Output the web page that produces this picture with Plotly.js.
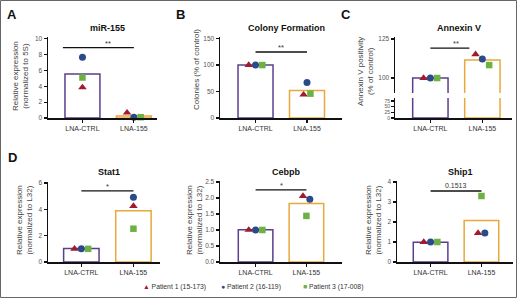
<!DOCTYPE html>
<html><head><meta charset="utf-8">
<script src="https://cdn.plot.ly/plotly-3.0.1.min.js"></script>
<style>html,body{margin:0;padding:0;background:#fff}#chart{width:520px;height:298px}</style>
</head><body><div id="chart"></div>
<script>
// ---------------- DATA ----------------
const categories = ['LNA-CTRL', 'LNA-155'];
const panelLetters = ['A', 'B', 'C', 'D', '', ''];
const panelTitles = ['miR-155', 'Colony Formation', 'Annexin V', 'Stat1', 'Cebpb', 'Ship1'];
const yTitles = [
  'Relative expression<br>(normalized to 5S)',
  'Colonies (% of control)',
  'Annexin V positivity<br>(% of control)',
  'Relative expression<br>(normalized to L32)',
  'Relative expression<br>(normalized to L32)',
  'Relative expression<br>(normalized to L32)'
];
const barCTRL    = [5.55, 100, 100, 1.03, 1.01, 0.99];
const barLNA155  = [0.25, 52, 111.5, 3.9, 1.83, 2.07];
const patientNames = ['Patient 1 (15-173)', 'Patient 2 (16-119)', 'Patient 3 (17-008)'];
const p1CTRL   = [3.85, 100, 100, 1.0, 1.0, 1.0];
const p1LNA155 = [0.67, 44, 115.2, 4.25, 2.06, 1.45];
const p2CTRL   = [7.65, 100, 100, 1.0, 1.0, 1.0];
const p2LNA155 = [0.1, 67, 112.2, 4.93, 1.96, 1.45];
const p3CTRL   = [5.1, 100, 100, 1.0, 1.0, 1.0];
const p3LNA155 = [0.1, 46, 108.3, 2.53, 1.44, 3.3];
const sigHeight = [8.85, 124.7, 119.2, 5.4, 2.25, 3.55];
const sigLabel  = ['**', '**', '**', '*', '*', '0.1513'];
const sigStart  = [-0.38, 0, 0, 0, 0, 0];
const sigEnd    = [1, 1, 0.75, 1, 1, 1];

// ---------------- STYLE / LAYOUT ----------------
const W = 520, H = 298;
const FONT = 'Liberation Sans, Arial, sans-serif';
const barLineColors = ['#5b3f8e', '#e8a83c'];
const pColors = ['#a11a2e', '#2b4a8a', '#6cb142'];
const pSymbols = ['triangle-up', 'circle', 'square'];
const pSizes = [7.5, 7, 6.5];
const geo = [
  {xd: [48, 157],  yd: [37, 118],  yr: [0, 10.2], xr: [-0.67, 1.45], dt: 2},
  {xd: [220, 342], yd: [37, 118],  yr: [0, 153],  xr: [-0.69, 1.68], dt: 50},
  {xd: [395, 512], yd: [37, 93],   yr: [90.4, 126.3], xr: [-0.68, 1.57], tv: [100, 125]},
  {xd: [48, 160],  yd: [182, 262], yr: [0, 6.08], xr: [-0.64, 1.51], dt: 2},
  {xd: [220, 342], yd: [181, 262], yr: [0, 2.53], xr: [-0.70, 1.70], dt: 0.5, fmt: '.1f'},
  {xd: [397, 513], yd: [181, 262], yr: [0, 4.05], xr: [-0.66, 1.62], dt: 1}
];
const lowerC = {yd: [98, 118], yr: [0, 88], tv: [0, 25, 50, 75]};
const yTitleX = [20, 196, 365, 24, 194, 373];
const yTitleY = [76, 70, 72, 220, 220, 220];
const letterPos = [[12, 15], [180, 15], [346, 15], [12, 157], [180, 157], [346, 157]];
const titleY = [28, 28, 28, 172, 172, 172];

const pxX = v => v / W;
const pxY = v => 1 - v / H;

const traces = [];
const layout = {
  width: W, height: H,
  margin: {l: 0, r: 0, t: 0, b: 0},
  paper_bgcolor: '#fff', plot_bgcolor: 'rgba(0,0,0,0)',
  showlegend: false,
  font: {family: FONT, color: '#333'},
  annotations: [], shapes: []
};

function yAxisStyle(g, dom, anchor) {
  const ax = {
    domain: [pxY(dom[1]), pxY(dom[0])], range: g.yr, anchor: anchor,
    showline: true, linecolor: '#111', linewidth: 1.5, mirror: false,
    ticks: 'outside', ticklen: 3, tickwidth: 1.2, tickcolor: '#111',
    tickfont: {size: 6.5, color: '#555', family: FONT},
    showgrid: false, zeroline: false, fixedrange: true
  };
  if (g.tv) ax.tickvals = g.tv; else { ax.tick0 = 0; ax.dtick = g.dt; }
  if (g.fmt) ax.tickformat = g.fmt;
  return ax;
}

const groups = [
  [p1CTRL, p2CTRL, p3CTRL],
  [p1LNA155, p2LNA155, p3LNA155]
];
const pAll = [[p1CTRL, p1LNA155], [p2CTRL, p2LNA155], [p3CTRL, p3LNA155]];

for (let i = 0; i < 6; i++) {
  const g = geo[i];
  const n = i + 1;
  const xn = 'x' + n, yn = 'y' + n;
  const xKey = 'xaxis' + (n === 1 ? '' : n), yKey = 'yaxis' + (n === 1 ? '' : n);
  const lower = (i === 2);
  layout[xKey] = {
    domain: [pxX(g.xd[0]), pxX(g.xd[1])], range: g.xr,
    anchor: lower ? 'y7' : yn,
    tickvals: [0, 1], ticktext: categories,
    showline: true, linecolor: '#111', linewidth: 1.5,
    ticks: 'outside', ticklen: 3, tickwidth: 1.2, tickcolor: '#111',
    tickfont: {size: 7, color: '#333', family: FONT},
    showgrid: false, zeroline: false, fixedrange: true
  };
  layout[yKey] = yAxisStyle(g, g.yd, xn);

  // bars
  const bar = {
    type: 'bar', x: [0, 1], y: [barCTRL[i], barLNA155[i]], width: 0.68,
    xaxis: xn, yaxis: yn,
    marker: {color: 'rgba(255,255,255,1)', line: {color: barLineColors, width: 1.5}},
    hoverinfo: 'skip'
  };
  traces.push(bar);
  if (lower) {
    layout.yaxis7 = yAxisStyle({yr: lowerC.yr, tv: lowerC.tv}, lowerC.yd, xn);
    layout.yaxis7.tickfont = {size: 5, color: '#555', family: FONT};
    layout.yaxis7.ticklen = 2.5;
    traces.push(Object.assign({}, bar, {yaxis: 'y7'}));
  }

  // point jitter (computed from overlap in pixel space)
  const pxPerUnit = (g.yd[1] - g.yd[0]) / (g.yr[1] - g.yr[0]);
  const unitPerPx = (g.xr[1] - g.xr[0]) / (g.xd[1] - g.xd[0]);
  const step = 6.8 * unitPerPx;
  const offsets = [[0, 0], [0, 0], [0, 0]];
  for (let k = 0; k < 2; k++) {
    const vals = groups[k].map(a => a[i]);
    const order = [0, 1, 2].sort((a, b) => vals[b] - vals[a]);
    const clusters = [];
    let cur = [order[0]];
    for (let m = 1; m < 3; m++) {
      const prev = cur[cur.length - 1];
      if (Math.abs(vals[prev] - vals[order[m]]) * pxPerUnit < 6.5) cur.push(order[m]);
      else { clusters.push(cur); cur = [order[m]]; }
    }
    clusters.push(cur);
    clusters.forEach(c => {
      c.sort((a, b) => a - b);
      c.forEach((p, idx) => { offsets[p][k] = (idx - (c.length - 1) / 2) * step; });
    });
  }
  for (let p = 0; p < 3; p++) {
    traces.push({
      type: 'scatter', mode: 'markers',
      x: [0 + offsets[p][0], 1 + offsets[p][1]],
      y: [pAll[p][0][i], pAll[p][1][i]],
      xaxis: xn, yaxis: yn, name: patientNames[p],
      marker: {symbol: pSymbols[p], color: pColors[p], size: pSizes[p], line: {width: 0}},
      cliponaxis: false, hoverinfo: 'skip'
    });
  }
  // significance bar
  traces.push({
    type: 'scatter', mode: 'lines', x: [sigStart[i], sigEnd[i]], y: [sigHeight[i], sigHeight[i]],
    xaxis: xn, yaxis: yn, line: {color: '#111', width: 1.3}, hoverinfo: 'skip', cliponaxis: false
  });
  layout.annotations.push({
    xref: xn, yref: yn, x: 0.5, y: sigHeight[i], text: sigLabel[i], showarrow: false,
    xanchor: 'center', yanchor: 'bottom', yshift: sigLabel[i].length > 2 ? 0 : -2,
    font: {size: sigLabel[i].length > 2 ? 7 : 7.5, color: '#333', family: FONT}
  });
  // panel titles
  layout.annotations.push({
    xref: 'paper', yref: 'paper', x: pxX((g.xd[0] + g.xd[1]) / 2 + 5), y: pxY(titleY[i]),
    text: '<b>' + panelTitles[i] + '</b>', showarrow: false, xanchor: 'center', yanchor: 'middle',
    font: {size: 9, color: '#111', family: FONT}
  });
  // y titles
  layout.annotations.push({
    xref: 'paper', yref: 'paper', x: pxX(yTitleX[i]), y: pxY(yTitleY[i]),
    text: yTitles[i], showarrow: false, textangle: -90, xanchor: 'center', yanchor: 'middle',
    font: {size: 8, color: '#444', family: FONT}
  });
  // panel letters
  if (panelLetters[i]) {
    layout.annotations.push({
      xref: 'paper', yref: 'paper', x: pxX(letterPos[i][0]), y: pxY(letterPos[i][1]),
      text: '<b>' + panelLetters[i] + '</b>', showarrow: false, xanchor: 'center', yanchor: 'middle',
      font: {size: 13, color: '#111', family: FONT}
    });
  }
}

// legend as annotations
const legendX = [141, 219, 301];
const legendGlyph = ['▲', '●', '■'];
for (let p = 0; p < 3; p++) {
  layout.annotations.push({
    xref: 'paper', yref: 'paper', x: pxX(legendX[p]), y: pxY(287),
    text: '<span style="color:' + pColors[p] + '">' + legendGlyph[p] + '</span> ' + patientNames[p],
    showarrow: false, xanchor: 'left', yanchor: 'middle',
    font: {size: 6.8, color: '#333', family: FONT}
  });
}
// outer frame
layout.shapes.push({
  type: 'rect', xref: 'paper', yref: 'paper', x0: pxX(0.5), x1: pxX(516.5), y0: pxY(297.5), y1: pxY(0.5),
  line: {color: '#666', width: 1}, fillcolor: 'rgba(0,0,0,0)'
});

Plotly.newPlot('chart', traces, layout, {staticPlot: true, displayModeBar: false});
</script></body></html>
